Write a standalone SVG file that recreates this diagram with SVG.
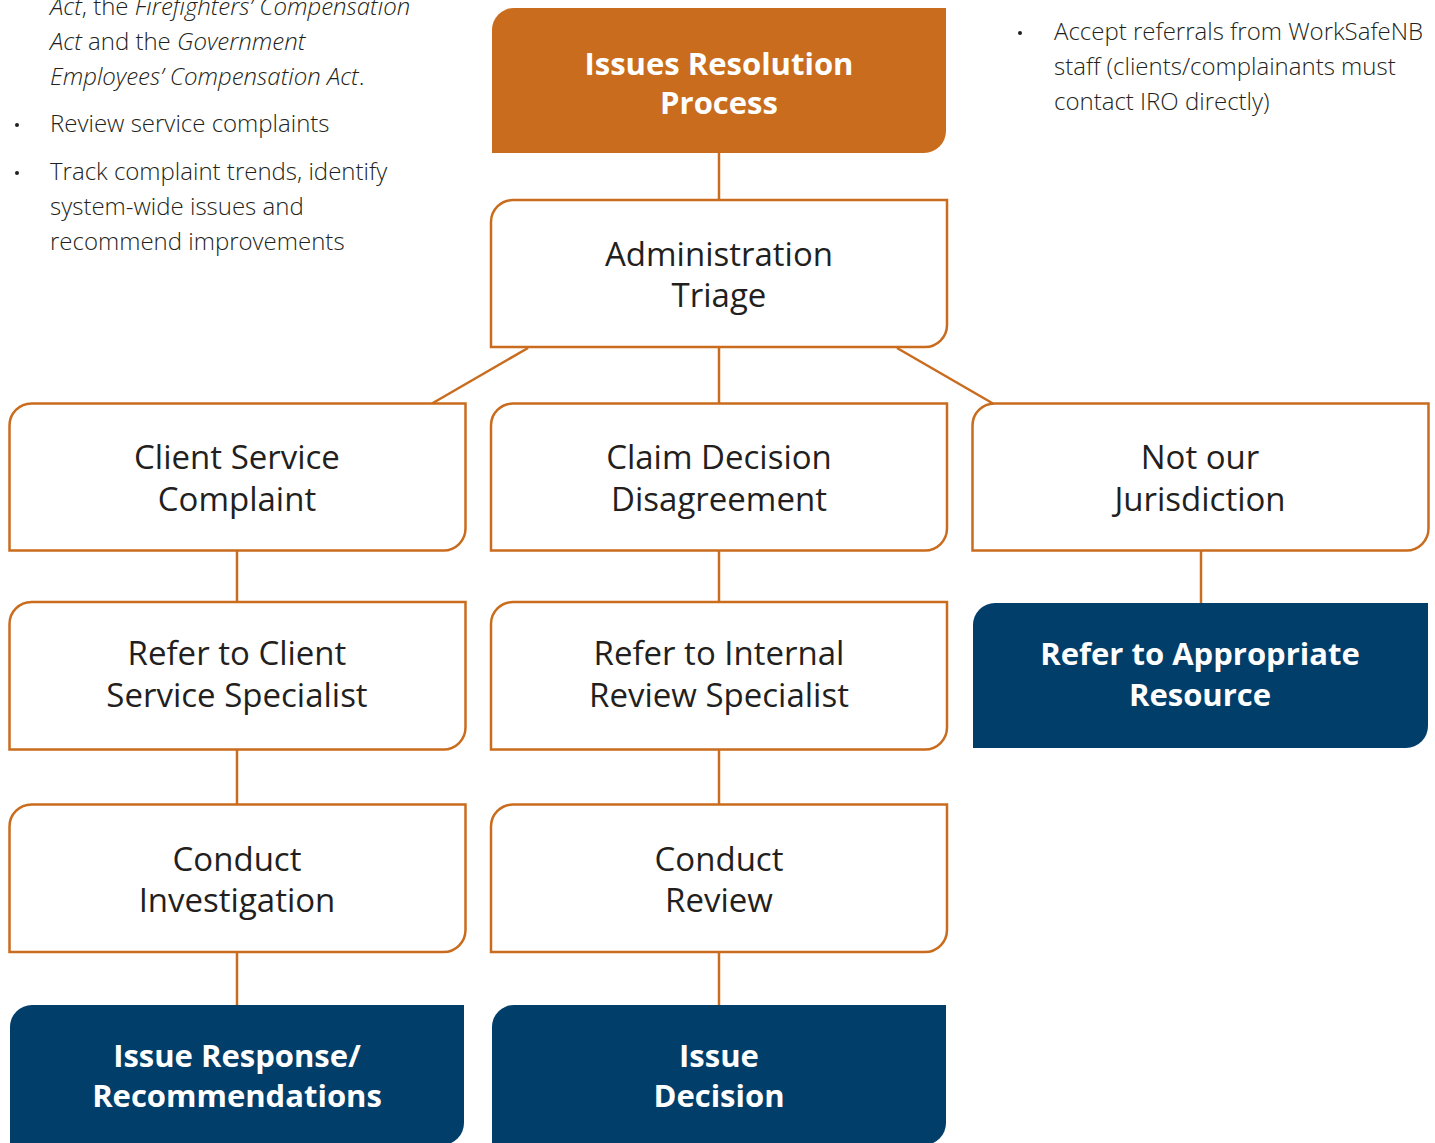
<svg xmlns="http://www.w3.org/2000/svg" width="1435" height="1143" viewBox="0 0 1435 1143">
<style>
.box{fill:#ffffff;stroke:#C96C1E;stroke-width:2.5}
.orange{fill:#C96C1E}
.navy{fill:#023E6A}
.conn{stroke:#C96C1E;stroke-width:2.5;fill:none}
.t{font-family:"Open Sans","Noto Sans","Liberation Sans",sans-serif;font-size:33px;fill:#231F20;text-anchor:middle}
.tb{font-family:"Open Sans","Noto Sans","Liberation Sans",sans-serif;font-size:31px;font-weight:700;fill:#ffffff;text-anchor:middle}
.side{font-family:"Open Sans","Noto Sans","Liberation Sans",sans-serif;font-size:24px;font-weight:300;fill:#231F20}
.it{font-style:italic}
.dot{fill:#231F20}
</style>
<rect width="1435" height="1143" fill="#ffffff"/>

<g id="side-left">
<text class="side" x="50" y="15"><tspan class="it">Act</tspan>, the <tspan class="it">Firefighters’ Compensation</tspan></text>
<text class="side" x="50" y="50"><tspan class="it">Act</tspan> and the <tspan class="it">Government</tspan></text>
<text class="side" x="50" y="85"><tspan class="it">Employees’ Compensation Act</tspan>.</text>
<circle class="dot" cx="17" cy="125" r="2"/>
<text class="side" x="50" y="132">Review service complaints</text>
<circle class="dot" cx="17" cy="173" r="2"/>
<text class="side" x="50" y="180">Track complaint trends, identify</text>
<text class="side" x="50" y="215">system-wide issues and</text>
<text class="side" x="50" y="250">recommend improvements</text>
</g>

<g id="side-right">
<circle class="dot" cx="1020" cy="33" r="2"/>
<text class="side" x="1054" y="40">Accept referrals from WorkSafeNB</text>
<text class="side" x="1054" y="75">staff (clients/complainants must</text>
<text class="side" x="1054" y="110">contact IRO directly)</text>
</g>

<g id="connectors">
<line class="conn" x1="719" y1="153" x2="719" y2="200"/>
<line class="conn" x1="719" y1="347" x2="719" y2="403.5"/>
<line class="conn" x1="528" y1="348" x2="432" y2="403.5"/>
<line class="conn" x1="897" y1="348" x2="993" y2="403.5"/>
<line class="conn" x1="237" y1="550.5" x2="237" y2="602"/>
<line class="conn" x1="237" y1="749.5" x2="237" y2="804.5"/>
<line class="conn" x1="237" y1="952" x2="237" y2="1005"/>
<line class="conn" x1="719" y1="550.5" x2="719" y2="602"/>
<line class="conn" x1="719" y1="749.5" x2="719" y2="804.5"/>
<line class="conn" x1="719" y1="952" x2="719" y2="1005"/>
<line class="conn" x1="1201" y1="550.5" x2="1201" y2="603"/>
</g>

<g id="issues-resolution-process">
<path class="orange" d="M514,8 H946 V131 A22,22 0 0 1 924,153 H492 V30 A22,22 0 0 1 514,8 Z"/>
<text class="tb" x="719" y="75">Issues Resolution</text>
<text class="tb" x="719" y="114">Process</text>
</g>

<g id="administration-triage">
<path class="box" d="M513,200 H947 V325 A22,22 0 0 1 925,347 H491 V222 A22,22 0 0 1 513,200 Z"/>
<text class="t" x="719" y="266">Administration</text>
<text class="t" x="719" y="307">Triage</text>
</g>

<g id="client-service-complaint">
<path class="box" d="M31.5,403.5 H465.5 V528.5 A22,22 0 0 1 443.5,550.5 H9.5 V425.5 A22,22 0 0 1 31.5,403.5 Z"/>
<text class="t" x="237" y="469">Client Service</text>
<text class="t" x="237" y="511">Complaint</text>
</g>

<g id="claim-decision-disagreement">
<path class="box" d="M513,403.5 H947 V528.5 A22,22 0 0 1 925,550.5 H491 V425.5 A22,22 0 0 1 513,403.5 Z"/>
<text class="t" x="719" y="469">Claim Decision</text>
<text class="t" x="719" y="511">Disagreement</text>
</g>

<g id="not-our-jurisdiction">
<path class="box" d="M994.5,403.5 H1428.5 V528.5 A22,22 0 0 1 1406.5,550.5 H972.5 V425.5 A22,22 0 0 1 994.5,403.5 Z"/>
<text class="t" x="1200" y="469">Not our</text>
<text class="t" x="1200" y="511">Jurisdiction</text>
</g>

<g id="refer-client-service-specialist">
<path class="box" d="M31.5,602 H465.5 V727.5 A22,22 0 0 1 443.5,749.5 H9.5 V624 A22,22 0 0 1 31.5,602 Z"/>
<text class="t" x="237" y="665">Refer to Client</text>
<text class="t" x="237" y="707">Service Specialist</text>
</g>

<g id="refer-internal-review-specialist">
<path class="box" d="M513,602 H947 V727.5 A22,22 0 0 1 925,749.5 H491 V624 A22,22 0 0 1 513,602 Z"/>
<text class="t" x="719" y="665">Refer to Internal</text>
<text class="t" x="719" y="707">Review Specialist</text>
</g>

<g id="refer-appropriate-resource">
<path class="navy" d="M995,603 H1428 V726 A22,22 0 0 1 1406,748 H973 V625 A22,22 0 0 1 995,603 Z"/>
<text class="tb" x="1200" y="665">Refer to Appropriate</text>
<text class="tb" x="1200" y="706">Resource</text>
</g>

<g id="conduct-investigation">
<path class="box" d="M31.5,804.5 H465.5 V930 A22,22 0 0 1 443.5,952 H9.5 V826.5 A22,22 0 0 1 31.5,804.5 Z"/>
<text class="t" x="237" y="871">Conduct</text>
<text class="t" x="237" y="912">Investigation</text>
</g>

<g id="conduct-review">
<path class="box" d="M513,804.5 H947 V930 A22,22 0 0 1 925,952 H491 V826.5 A22,22 0 0 1 513,804.5 Z"/>
<text class="t" x="719" y="871">Conduct</text>
<text class="t" x="719" y="912">Review</text>
</g>

<g id="issue-response-recommendations">
<path class="navy" d="M32,1005 H464 V1123 A22,22 0 0 1 442,1145 H10 V1027 A22,22 0 0 1 32,1005 Z"/>
<text class="tb" x="237" y="1067">Issue Response/</text>
<text class="tb" x="237" y="1107">Recommendations</text>
</g>

<g id="issue-decision">
<path class="navy" d="M514,1005 H946 V1123 A22,22 0 0 1 924,1145 H492 V1027 A22,22 0 0 1 514,1005 Z"/>
<text class="tb" x="719" y="1067">Issue</text>
<text class="tb" x="719" y="1107">Decision</text>
</g>
</svg>
